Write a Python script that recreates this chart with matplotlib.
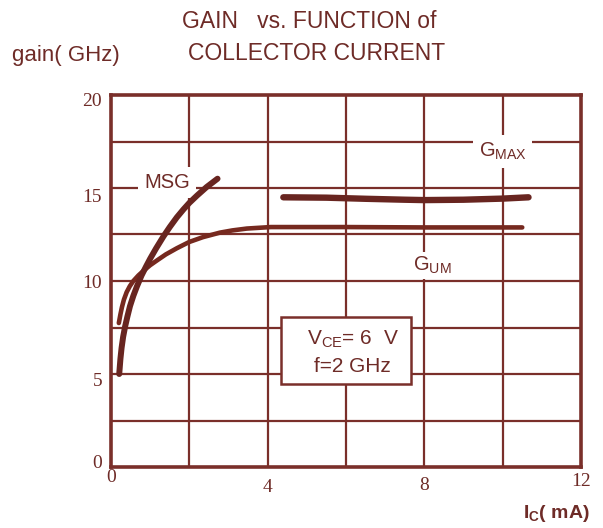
import matplotlib
matplotlib.use("Agg")
import matplotlib.pyplot as plt
from matplotlib.patches import Rectangle
import numpy as np

plt.rcParams['font.family'] = ['Liberation Sans', 'DejaVu Sans']
plt.rcParams['mathtext.fontset'] = 'custom'
plt.rcParams['mathtext.rm'] = 'Liberation Sans'
plt.rcParams['mathtext.it'] = 'Liberation Sans'
plt.rcParams['mathtext.bf'] = 'Liberation Sans:bold'

# ---- data ----
msg_x = [0.21, 0.24, 0.27, 0.31, 0.36, 0.42, 0.485, 0.57, 0.66, 0.78, 0.90, 1.00,
         1.15, 1.34, 1.50, 1.68, 1.85, 2.00, 2.20, 2.44, 2.72]
msg_y = [5.0, 5.8, 6.4, 7.0, 7.55, 8.1, 8.65, 9.2, 9.7, 10.3, 10.8, 11.2,
         11.75, 12.4, 12.9, 13.42, 13.85, 14.2, 14.6, 15.05, 15.5]

gum_x = [0.20, 0.24, 0.28, 0.33, 0.40, 0.48, 0.57, 0.70, 0.83, 1.00, 1.17, 1.40,
         1.68, 2.00, 2.35, 2.78, 3.10, 3.47, 4.08, 6.0, 8.0, 10.5]
gum_y = [7.74, 8.2, 8.6, 9.0, 9.4, 9.72, 10.0, 10.3, 10.55, 10.85, 11.1, 11.43,
         11.76, 12.1, 12.36, 12.6, 12.72, 12.82, 12.9, 12.9, 12.88, 12.88]

gmax_x = [4.4, 5.5, 6.5, 7.5, 8.0, 9.0, 10.0, 10.66]
gmax_y = [14.5, 14.48, 14.42, 14.37, 14.35, 14.37, 14.43, 14.5]

xtick_vals = [0, 4, 8, 12]
xtick_labels = ['0', '4', '8', '12']
ytick_vals = [0, 5, 10, 15, 20]
ytick_labels = ['0', '5', '10', '15', '20']

title_line1 = 'GAIN   vs. FUNCTION of'
title_line2 = 'COLLECTOR CURRENT'
ylabel = 'gain( GHz)'

GRID = '#7a2f2a'
CURVE = '#682520'
TEXT = '#6e2b27'

fig = plt.figure(figsize=(6.03, 5.28), dpi=100)
ax = fig.add_axes([111/603, 1-467/528, 470/603, 372/528])
ax.set_xlim(0, 12)
ax.set_ylim(0, 20)

# grid
for gx in np.arange(2, 12, 2):
    ax.axvline(gx, color=GRID, lw=1.6, zorder=1)
for gy in np.arange(2.5, 20, 2.5):
    ax.axhline(gy, color=GRID, lw=1.6, zorder=1)

for s in ax.spines.values():
    s.set_color(GRID)
    s.set_linewidth(2.6)
ax.set_xticks([])
ax.set_yticks([])

# curves
ax.plot(gum_x, gum_y, color='#76291f', lw=3.3, solid_capstyle='round', solid_joinstyle='round', zorder=4)
ax.plot(msg_x, msg_y, color=CURVE, lw=4.3, solid_capstyle='round', solid_joinstyle='round', zorder=5)
ax.plot(gmax_x, gmax_y, color=CURVE, lw=4.6, solid_capstyle='round', solid_joinstyle='round', zorder=5)

# tick labels (staggered as in the original)
xoff = {0: -10, 4: -20, 8: -18, 12: -15}
for v, lab in zip(xtick_vals, xtick_labels):
    ax.annotate(lab, (v, 0), xycoords='data', xytext=(0, xoff[v]), textcoords='offset pixels',
                ha='center', va='center', fontsize=14, family='Liberation Serif', color=TEXT)
yoff = {0: 4, 5: -7, 10: -2, 15: -9, 20: -6}
for v, lab in zip(ytick_vals, ytick_labels):
    ax.annotate(lab, (0, v), xycoords='data', xytext=(-9, yoff[v]), textcoords='offset pixels',
                ha='right', va='center', fontsize=14, family='Liberation Serif', color=TEXT)

# labels on curves
wb = dict(facecolor='white', edgecolor='none', pad=4)
ax.text(1.43, 15.3, 'MSG', ha='center', va='center', fontsize=14.5, color=TEXT, bbox=wb, zorder=3)
ax.text(10.0, 16.95, r'G$_{\mathrm{MAX}}$', ha='center', va='center', fontsize=14.5, color=TEXT, bbox=wb, zorder=3)
ax.text(8.2, 10.85, r'G$_{\mathrm{UM}}$', ha='center', va='center', fontsize=14.5, color=TEXT,
        bbox=dict(facecolor='white', edgecolor='none', pad=2), zorder=3)

# conditions box
ax.add_patch(Rectangle((4.34, 4.46), 3.32, 3.6, facecolor='white', edgecolor=GRID, lw=1.8, zorder=6))
ax.text(6.18, 6.88, 'V$_{\\mathrm{CE}}$= 6  V', ha='center', va='center', fontsize=15, color=TEXT, zorder=7)
ax.text(6.15, 5.39, 'f=2 GHz', ha='center', va='center', fontsize=15, color=TEXT, zorder=7)

# titles
fig.text(309/603, 1-21/528, title_line1, ha='center', va='center', fontsize=16.5, color=TEXT)
fig.text(317/603, 1-53/528, title_line2, ha='center', va='center', fontsize=16.5, color=TEXT)
fig.text(12/603, 1-55/528, ylabel, ha='left', va='center', fontsize=16, color=TEXT)
fig.text(590/603, 1-514/528, r'I$_{\mathbf{C}}$( mA)', ha='right', va='center', fontsize=14,
         color=TEXT, fontweight='bold')

fig.savefig('out.png', dpi=100)
